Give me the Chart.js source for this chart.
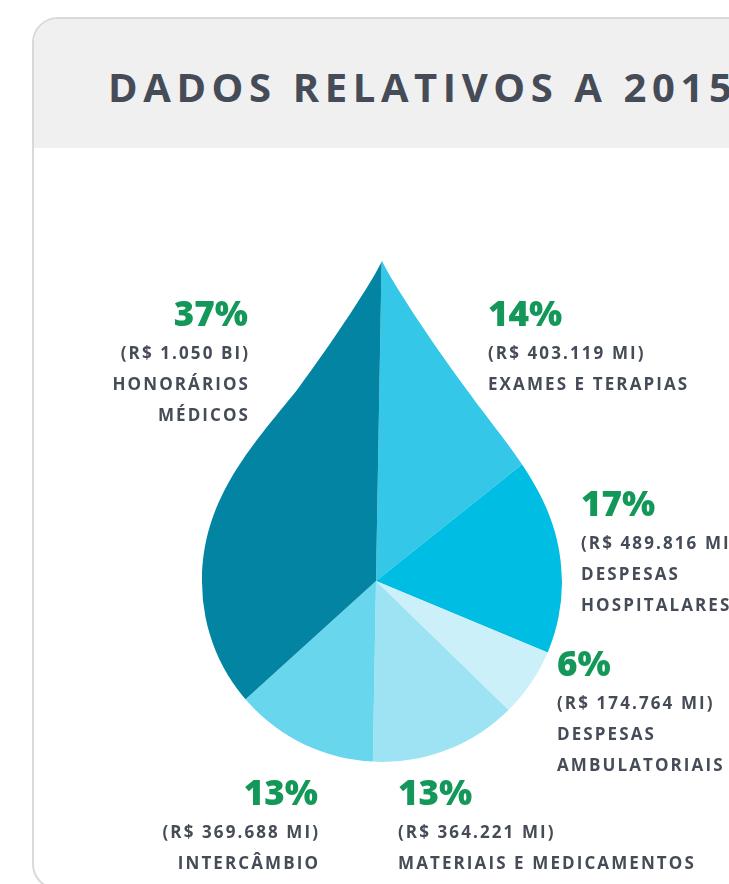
<!DOCTYPE html>
<html>
<head>
<meta charset="utf-8">
<script src="https://cdn.jsdelivr.net/npm/chart.js@4.4.1/dist/chart.umd.min.js"></script>
<style>
  html, body { margin:0; padding:0; width:729px; height:884px; overflow:hidden; background:#fff; }
  #card { position:absolute; left:32px; top:17px; width:760px; height:873px; border:2px solid #d9d9d9;
          border-radius:26px; overflow:hidden; background:#fff; box-sizing:border-box; }
  #head { position:absolute; left:0; top:0; right:0; height:129px; background:#f0f0f0; }
  #title { position:absolute; left:108px; white-space:nowrap; font-family:"Open Sans", sans-serif;
           font-weight:700; font-size:40px; line-height:40px; color:#454c58; letter-spacing:5.6px; }
  canvas { position:absolute; left:0; top:0; }
  .ln { position:absolute; white-space:nowrap; font-family:"Open Sans", sans-serif; font-weight:700; }
  .pct { color:#14985a; font-size:35px; line-height:35px; font-weight:800; }
  .txt { color:#454c58; font-size:17px; line-height:17px; letter-spacing:2.1px; }
</style>
</head>
<body>
<div id="card"><div id="head"></div></div>
<div id="title">DADOS RELATIVOS A 2015</div>
<canvas id="c" width="729" height="884"></canvas>
<div id="labels"></div>
<script>
// ---- data ----
const categories = ["Exames e Terapias", "Despesas Hospitalares", "Despesas Ambulatoriais",
                    "Materiais e Medicamentos", "Intercâmbio", "Honorários Médicos"];
const percentages = [14, 17, 6, 13, 13, 37];
const amounts = ["(R$ 403.119 MI)", "(R$ 489.816 MI)", "(R$ 174.764 MI)",
                 "(R$ 364.221 MI)", "(R$ 369.688 MI)", "(R$ 1.050 BI)"];
const nameLines = [["EXAMES E TERAPIAS"], ["DESPESAS", "HOSPITALARES"], ["DESPESAS", "AMBULATORIAIS"],
                   ["MATERIAIS E MEDICAMENTOS"], ["INTERCÂMBIO"], ["HONORÁRIOS", "MÉDICOS"]];
const colors = ["#35c7e8", "#00bde3", "#ccf0f9", "#9de3f3", "#68d6ed", "#0284a2"];

// ---- label layout (x anchor, baseline of percentage, alignment) ----
const labelLayout = [
  {x:488, y:326, align:"left"},
  {x:581, y:516, align:"left"},
  {x:557, y:676, align:"left"},
  {x:398, y:805, align:"left"},
  {x:318, y:805, align:"right"},
  {x:248, y:326, align:"right"}
];

const ASC = 0.888; // baseline offset factor for line-height = 1em (Open Sans)
function placeLine(cls, text, x, baseline, fs, align) {
  const d = document.createElement("div");
  d.className = "ln " + cls;
  d.textContent = text;
  d.style.top = (baseline - ASC * fs) + "px";
  document.getElementById("labels").appendChild(d);
  if (align === "right") {
    d.style.left = "0px";
    const w = d.getBoundingClientRect().width;
    const ls = parseFloat(getComputedStyle(d).letterSpacing) || 0;
    d.style.left = (x - w + ls) + "px";
  } else {
    d.style.left = x + "px";
  }
}
const t = document.getElementById("title");
t.style.top = (103 - ASC * 40) + "px";

labelLayout.forEach((p, i) => {
  placeLine("pct", percentages[i] + "%", p.x, p.y, 35, p.align);
  placeLine("txt", amounts[i], p.x, p.y + 33, 17, p.align);
  nameLines[i].forEach((ln, j) => placeLine("txt", ln, p.x, p.y + 64 + j * 31, 17, p.align));
});

// ---- teardrop clip (relative to pie centre) ----
const dropClip = {
  id: "dropClip",
  beforeDatasetsDraw(chart) {
    const a = chart.getDatasetMeta(0).data[0];
    const cx = a.x, cy = a.y, ctx = chart.ctx;
    ctx.save();
    ctx.beginPath();
    ctx.moveTo(cx + 6, cy - 320);
    ctx.bezierCurveTo(cx + 16, cy - 299, cx + 54, cy - 241, cx + 91, cy - 191);
    ctx.bezierCurveTo(cx + 134, cy - 131, cx + 186, cy - 81, cx + 186, cy + 1);
    ctx.arc(cx + 6, cy + 1, 180, 0, Math.PI, false);
    ctx.bezierCurveTo(cx - 174, cy - 81, cx - 126, cy - 133, cx - 79, cy - 191);
    ctx.bezierCurveTo(cx - 42, cy - 241, cx - 4, cy - 299, cx + 6, cy - 320);
    ctx.closePath();
    ctx.clip();
  },
  afterDatasetsDraw(chart) { chart.ctx.restore(); }
};

new Chart(document.getElementById("c"), {
  type: "pie",
  data: { labels: categories, datasets: [{ data: percentages, backgroundColor: colors, borderWidth: 0 }] },
  options: {
    responsive: false, animation: false, rotation: 1, radius: 330,
    layout: { padding: { left: 23, right: 0, top: 278, bottom: 0 } },
    plugins: { legend: { display: false }, tooltip: { enabled: false } },
    events: []
  },
  plugins: [dropClip]
});
</script>
</body>
</html>
